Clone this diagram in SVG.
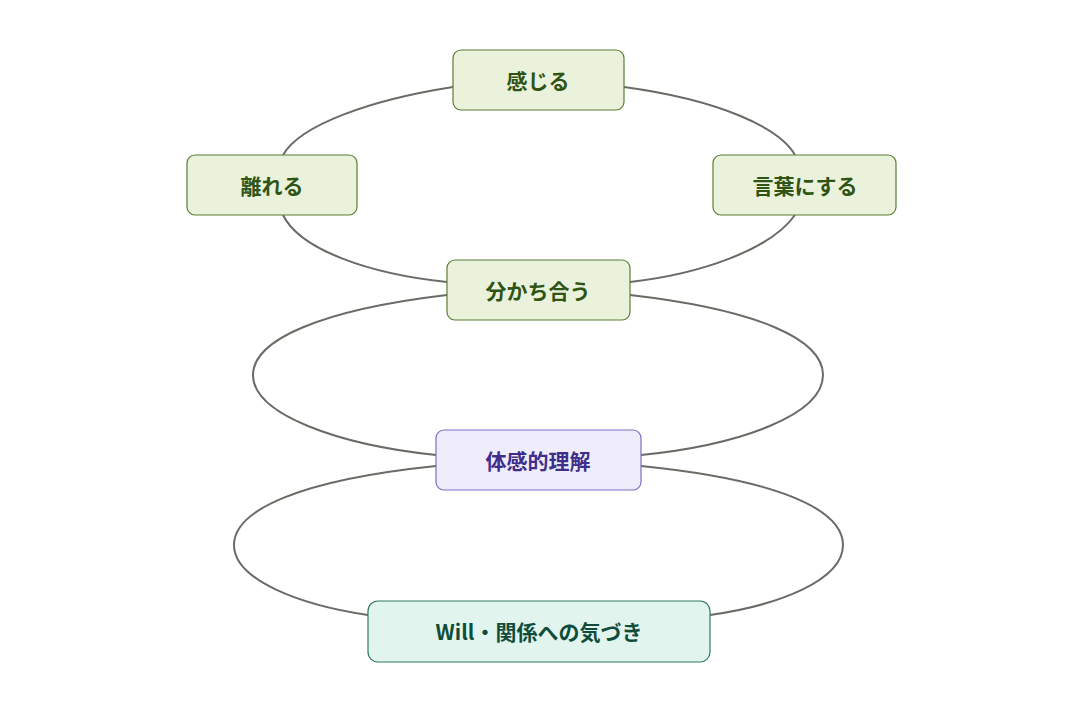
<svg xmlns="http://www.w3.org/2000/svg" width="1070" height="713" viewBox="0 0 1070 713">
<style>
.c{fill:none;stroke:#6b6b66;stroke-width:2}
.g rect{fill:#eaf2dc;stroke:#5b7d34;stroke-width:1.2}
.g text{fill:#2f5414}
.p rect{fill:#efedfc;stroke:#7d6cc6;stroke-width:1.2}
.p text{fill:#3f2f8a}
.t rect{fill:#e1f4ee;stroke:#2f7a60;stroke-width:1.2}
.t text{fill:#0f4d3a}
text{font-family:"Noto Sans CJK JP","Noto Sans",sans-serif;font-size:21px;font-weight:bold;text-anchor:middle;dominant-baseline:central}
</style>
<rect width="1070" height="713" fill="#fff"/>
<g id="connectors">
<path class="c" d="M624,87 C720,100 780,128 795,155"/>
<path class="c" d="M795,215 C770,250 700,274 630,282"/>
<path class="c" d="M447,282 C370,274 300,250 283,215"/>
<path class="c" d="M283,155 C300,125 370,100 453,87"/>
<path class="c" d="M630,295 C760,310 823,340 823,375 C823,415 740,445 641,455"/>
<path class="c" d="M447,295 C320,310 253,340 253,375 C253,415 340,445 436,455"/>
<path class="c" d="M641,466 C780,480 843,510 843,545 C843,580 780,605 710,615"/>
<path class="c" d="M436,466 C300,480 234,510 234,545 C234,580 300,605 368,615"/>
</g>
<g id="n1" class="g"><rect x="453" y="50" width="171" height="60" rx="8"/><text x="538" y="80">感じる</text></g>
<g id="n2" class="g"><rect x="187" y="155" width="170" height="60" rx="8"/><text x="272" y="185">離れる</text></g>
<g id="n3" class="g"><rect x="713" y="155" width="183" height="60" rx="8"/><text x="805" y="185">言葉にする</text></g>
<g id="n4" class="g"><rect x="447" y="260" width="183" height="60" rx="8"/><text x="538" y="290">分かち合う</text></g>
<g id="n5" class="p"><rect x="436" y="430" width="205" height="60" rx="8"/><text x="538" y="460">体感的理解</text></g>
<g id="n6" class="t"><rect x="368" y="601" width="342" height="61" rx="10"/><text x="539" y="631">Will・関係への気づき</text></g>
</svg>
